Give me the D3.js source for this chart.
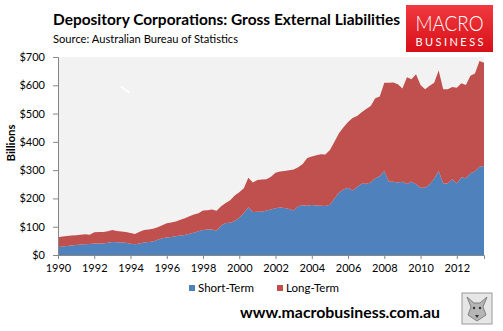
<!DOCTYPE html>
<html><head><meta charset="utf-8">
<script src="https://cdn.jsdelivr.net/npm/d3@7"></script>
<style>body{margin:0;background:#fff}svg{display:block}text{font-family:Lato,"Open Sans",sans-serif}</style>
</head><body><svg id="c" width="503" height="331"></svg>
<script>
const startYear = 1990, endYear = 2013.5;
const shortTerm = [27,30,32,34, 35,37,38,39, 41,41,41,43, 46,45,44,43, 40,38,41,44, 46,48,54,59,
 62,64,66,69, 71,75,79,84, 88,90,90,86, 104,113,114,120, 132,148,169,152, 153,153,157,161,
 165,168,166,163, 157,172,176,174, 177,175,174,173, 178,200,220,232, 238,228,240,252,
 252,256,271,278, 297,259,259,256, 259,251,259,250, 238,238,250,270, 297,253,253,268,
 253,275,271,289, 295,312,315];
const longTerm = [36,35,35,35, 35,35,35,33, 39,40,40,41, 42,40,39,38, 38,36,41,44, 44,45,44,46,
 50,51,52,56, 59,62,64,64, 69,68,71,70, 68,71,80,90, 90,88,104,104, 112,114,111,116,
 126,127,131,137, 145,138,146,169, 171,178,182,182, 193,200,210,220, 232,256,251,253,
 264,271,283,282, 312,350,351,348, 330,377,362,389, 363,348,348,339, 355,333,333,326,
 338,332,330,345, 347,374,365];
const seriesNames = ["Short-Term","Long-Term"];
const seriesColors = ["#4f81bd","#c0504d"];
const yTicks = [0,100,200,300,400,500,600,700];
const xTicks = [1990,1992,1994,1996,1998,2000,2002,2004,2006,2008,2010,2012];

const data = shortTerm.map((s,i)=>({t:startYear+i*0.25,"Short-Term":s,"Long-Term":longTerm[i]}));
const svg = d3.select("#c");
const x = d3.scaleLinear().domain([startYear,endYear]).range([58,484]);
const y = d3.scaleLinear().domain([0,700]).range([255,57]);

svg.append("rect").attr("x",58).attr("y",57).attr("width",426).attr("height",198).attr("fill","#f2f2f2");

const stack = d3.stack().keys(seriesNames)(data);
const area = d3.area().x(d=>x(d.data.t)).y0(d=>y(d[0])).y1(d=>y(d[1]));
svg.selectAll("path.a").data(stack).join("path").attr("class","a")
  .attr("d",area).attr("fill",(d,i)=>seriesColors[i]);

// small artifact mark
svg.append("line").attr("x1",121.5).attr("y1",87).attr("x2",129).attr("y2",92.5)
  .attr("stroke","#fff").attr("stroke-width",1.8).attr("stroke-linecap","round");

const ya = svg.append("g").attr("transform","translate(58,0)")
  .call(d3.axisLeft(y).tickValues(yTicks).tickFormat(d=>"$"+d).tickSize(5).tickPadding(8));
const xa = svg.append("g").attr("transform","translate(0,255)")
  .call(d3.axisBottom(x).tickValues(xTicks).tickFormat(d3.format("d")).tickSize(4).tickPadding(5));
[ya,xa].forEach(g=>{
  g.select(".domain").attr("stroke","#868686");
  g.selectAll(".tick line").attr("stroke","#868686");
  g.selectAll(".tick text").attr("fill","#000").style("font-size","11px");
});

svg.append("text").attr("transform","translate(15,143) rotate(-90)").attr("text-anchor","middle")
  .style("font-size","11.5px").style("font-weight","bold").text("Billions");

svg.append("text").attr("x",53).attr("y",25).style("font-size","15px").style("font-weight","bold")
  .attr("textLength",347).attr("lengthAdjust","spacingAndGlyphs")
  .text("Depository Corporations: Gross External Liabilities");
svg.append("text").attr("x",53).attr("y",43).style("font-size","11.5px")
  .attr("textLength",185).attr("lengthAdjust","spacingAndGlyphs")
  .text("Source: Australian Bureau of Statistics");

// logo
const defs = svg.append("defs");
const lg = defs.append("linearGradient").attr("id","lg").attr("x1",0).attr("y1",0).attr("x2",0).attr("y2",1);
lg.append("stop").attr("offset","0").attr("stop-color","#f0393f");
lg.append("stop").attr("offset","1").attr("stop-color","#d80f18");
svg.append("rect").attr("x",406).attr("y",5).attr("width",87).attr("height",47).attr("fill","url(#lg)");
svg.append("text").attr("x",449.5).attr("y",31).attr("text-anchor","middle").attr("fill","#fff")
  .style("font-size","21px").style("font-weight","300").attr("textLength",68).attr("lengthAdjust","spacingAndGlyphs").text("MACRO");
svg.append("text").attr("x",449.5).attr("y",46).attr("text-anchor","middle").attr("fill","#fff")
  .style("font-size","11px").attr("textLength",68).attr("lengthAdjust","spacing").text("BUSINESS");

// legend
seriesNames.forEach((n,i)=>{
  const lx = [189,277][i];
  svg.append("rect").attr("x",lx).attr("y",285).attr("width",6).attr("height",6).attr("fill",seriesColors[i]);
  svg.append("text").attr("x",lx+9).attr("y",292).style("font-size","11.5px").text(n);
});

svg.append("text").attr("x",340).attr("y",318).attr("text-anchor","middle")
  .style("font-size","15px").style("font-weight","bold").attr("textLength",200).attr("lengthAdjust","spacingAndGlyphs")
  .text("www.macrobusiness.com.au");

// wolf badge placeholder
svg.append("rect").attr("x",462).attr("y",293).attr("width",30).attr("height",31).attr("fill","#e6e6e6").attr("stroke","#9a9a9a");
const wolf = svg.append("g").attr("transform","translate(477,309)");
wolf.append("path").attr("d","M-10,-12 L-6,-2 L-9,6 L0,12 L9,6 L6,-2 L10,-12 L3,-6 L-3,-6 Z")
  .attr("fill","#b5b5b5").attr("stroke","#6d6d6d").attr("stroke-width",0.8);
wolf.append("circle").attr("cx",-3).attr("cy",-1).attr("r",1.2).attr("fill","#333");
wolf.append("circle").attr("cx",3).attr("cy",-1).attr("r",1.2).attr("fill","#333");
wolf.append("path").attr("d","M-2,6 L2,6 L0,9 Z").attr("fill","#333");
</script></body></html>
